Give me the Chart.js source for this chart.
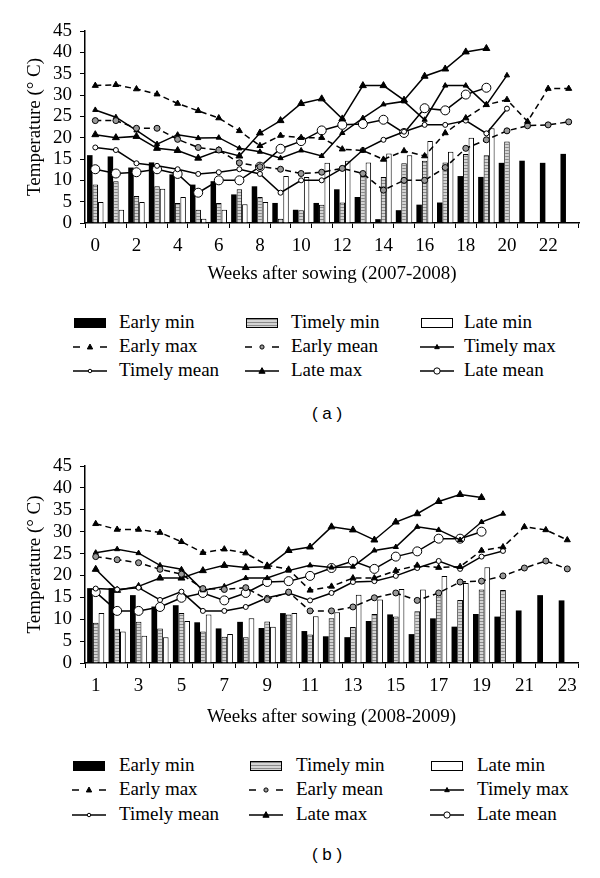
<!DOCTYPE html>
<html>
<head>
<meta charset="utf-8">
<script src="https://cdn.jsdelivr.net/npm/chart.js@4.4.0/dist/chart.umd.min.js"></script>
<style>
  body { margin: 0; background: #fff; }
  #page { position: relative; width: 600px; height: 878px; overflow: hidden; font-family: "Liberation Serif", "Times New Roman", serif; color: #000; }
  .chartBox { position: absolute; left: 0; width: 600px; }
  .lg { position: absolute; font-size: 19px; line-height: 22px; white-space: nowrap; }
  .sym { position: absolute; }
  .tag { position: absolute; width: 100px; margin-left: -50px; text-align: center; font-family: "Liberation Sans", Arial, sans-serif; font-size: 17px; line-height: 22px; }
</style>
</head>
<body>
<div id="page">
  <div class="chartBox" style="top:0;height:290px"><canvas id="chartA"></canvas></div>
  <div id="legendA"></div>
  <div class="tag" style="left:327px;top:403px">( a )</div>
  <div class="chartBox" style="top:435px;height:300px"><canvas id="chartB"></canvas></div>
  <div id="legendB"></div>
  <div class="tag" style="left:327px;top:844px">( b )</div>
</div>
<script>
// weeks after sowing
const weeksA = ['0','1','2','3','4','5','6','7','8','9','10','11','12','13','14','15','16','17','18','19','20','21','22','23'];
const weeksB = ['1','2','3','4','5','6','7','8','9','10','11','12','13','14','15','16','17','18','19','20','21','22','23'];
const yTicks = [0, 5, 10, 15, 20, 25, 30, 35, 40, 45];

// (a) 2007-2008
const earlyMinA   = [15.9, 15.6, 13.0, 14.2, 11.4, 9.0, 9.8, 6.7, 8.6, 4.7, 3.1, 4.7, 7.9, 6.1, 0.9, 3.0, 4.3, 4.8, 11.0, 10.8, 14.1, 14.6, 14.1, 16.2];
const timelyMinA  = [9.0, 9.8, 6.3, 8.6, 4.7, 3.1, 4.7, 7.9, 6.1, 1.0, 3.0, 4.3, 4.8, 11.0, 10.8, 14.0, 14.6, 14.2, 16.2, 15.9, 19.1, null, null, null];
const lateMinA    = [4.9, 3.1, 4.9, 8.0, 6.1, 1.0, 3.1, 4.4, 4.9, 11.0, 10.8, 14.1, 14.6, 14.2, 16.3, 15.9, 19.2, 16.7, 20.0, 22.2, null, null, null, null];
const earlyMaxA   = [32.2, 32.4, 31.4, 30.2, 28.0, 26.3, 24.6, 21.6, 18.1, 20.5, 20.0, 20.0, 17.3, 17.0, 14.9, 16.9, 15.7, 21.1, 24.6, 27.7, 28.9, 23.8, 31.5, 31.5];
const earlyMeanA  = [24.0, 24.0, 22.2, 22.2, 19.6, 17.7, 17.1, 14.1, 13.2, 12.6, 11.6, 11.9, 12.8, 11.6, 7.7, 10.0, 10.0, 13.0, 17.5, 19.5, 21.6, 22.8, 23.0, 23.7];
const timelyMaxA  = [26.5, 24.8, 21.7, 18.5, 20.7, 19.9, 20.0, 17.5, 16.7, 15.2, 17.0, 15.7, 21.1, 24.6, 27.8, 28.5, 24.2, 32.2, 32.2, 27.7, 34.6, null, null, null];
const timelyMeanA = [17.7, 17.1, 14.0, 13.4, 12.6, 11.5, 11.9, 12.6, 11.5, 7.1, 10.0, 10.0, 12.8, 17.1, 19.5, 21.4, 23.0, 23.0, 24.0, 21.0, 26.8, null, null, null];
const lateMaxA    = [20.7, 20.0, 20.3, 17.5, 17.0, 15.2, 17.0, 15.7, 21.1, 24.0, 28.0, 29.1, 24.4, 32.2, 32.2, 28.8, 34.4, 36.1, 40.1, 40.9, null, null, null, null];
const lateMeanA   = [12.6, 11.6, 11.9, 12.6, 11.5, 7.1, 10.0, 10.0, 13.2, 17.4, 19.2, 21.7, 23.0, 23.2, 24.2, 21.1, 26.9, 26.4, 30.1, 31.7, null, null, null, null];

// (b) 2008-2009
const earlyMinB   = [17.1, 17.1, 15.5, 12.9, 13.2, 9.3, 7.9, 9.4, 8.0, 11.4, 7.3, 6.1, 5.9, 9.6, 11.1, 6.6, 10.2, 8.3, 11.2, 10.6, 12.0, 15.5, 14.3];
const timelyMinB  = [9.2, 7.8, 9.4, 7.9, 11.4, 7.2, 6.0, 5.9, 9.5, 11.1, 6.5, 10.2, 8.2, 11.2, 10.6, 11.8, 15.5, 14.4, 16.8, 16.7, null, null, null];
const lateMinB    = [11.4, 7.2, 6.2, 5.9, 9.6, 11.1, 6.6, 10.2, 8.3, 11.4, 10.7, 11.6, 15.6, 14.5, 16.9, 16.8, 19.9, 18.3, 21.9, null, null, null, null];
const earlyMaxB   = [31.8, 30.5, 30.5, 29.8, 27.7, 25.2, 26.0, 25.1, 22.3, 21.4, 16.6, 17.5, 19.4, 19.4, 21.1, 22.3, 21.8, 22.0, 25.7, 26.5, 31.1, 30.4, 28.1];
const earlyMeanB  = [24.3, 23.6, 22.9, 21.4, 20.3, 17.0, 16.8, 17.2, 14.5, 16.2, 11.9, 11.9, 12.8, 14.9, 16.0, 14.3, 16.0, 18.5, 18.7, 19.9, 21.7, 23.3, 21.5];
const timelyMaxB  = [25.2, 26.0, 25.1, 22.3, 21.4, 16.6, 17.5, 19.4, 19.4, 21.1, 22.3, 21.8, 22.0, 25.7, 26.5, 31.1, 30.4, 28.1, 32.2, 34.1, null, null, null];
const timelyMeanB = [17.0, 16.8, 17.2, 14.4, 16.3, 11.9, 11.9, 12.8, 14.9, 16.0, 14.3, 16.0, 18.5, 18.7, 19.9, 21.7, 23.3, 21.5, 24.3, 25.6, null, null, null];
const lateMaxB    = [21.4, 16.6, 17.5, 19.4, 19.4, 21.1, 22.3, 21.8, 22.0, 25.7, 26.5, 31.1, 30.4, 28.1, 32.2, 34.1, 36.9, 38.5, 37.8, null, null, null, null];
const lateMeanB   = [16.2, 11.9, 11.9, 12.8, 14.9, 16.0, 14.3, 16.0, 18.5, 18.7, 19.9, 21.7, 23.3, 21.5, 24.3, 25.5, 28.4, 28.4, 30.0, null, null, null, null];

Chart.defaults.font.family = '"Liberation Serif", "Times New Roman", serif';
Chart.defaults.font.size = 19;
Chart.defaults.color = '#000';

function stripes() {
  const c = document.createElement('canvas');
  c.width = 4; c.height = 3;
  const g = c.getContext('2d');
  g.fillStyle = '#d4d4d4'; g.fillRect(0, 0, 4, 3);
  g.fillStyle = '#8a8a8a'; g.fillRect(0, 0, 4, 1);
  return g.createPattern(c, 'repeat');
}
const grayFill = stripes();

function barSet(label, data, fill, bw) {
  return { type: 'bar', label: label, data: data, backgroundColor: fill, borderColor: '#000', borderWidth: bw,
           barPercentage: 1, categoryPercentage: 0.8, order: 1 };
}
function lineSet(label, data, dashed, shape, r, fill) {
  return { type: 'line', label: label, data: data, borderColor: '#000', borderWidth: 1.5,
           borderDash: dashed ? [6, 4] : [], pointStyle: shape, pointRadius: r,
           pointBackgroundColor: fill, pointBorderColor: '#000', pointBorderWidth: 1,
           fill: false, tension: 0, spanGaps: false, order: 0 };
}

function makeSets(s) {
  return [
    barSet('Early min', s[0], '#000', 0),
    barSet('Timely min', s[1], grayFill, 1),
    barSet('Late min', s[2], '#fff', 1),
    lineSet('Early max', s[3], true, 'triangle', 3.5, '#000'),
    lineSet('Early mean', s[4], true, 'circle', 3, '#999'),
    lineSet('Timely max', s[5], false, 'triangle', 3, '#000'),
    lineSet('Timely mean', s[6], false, 'circle', 2.5, '#fff'),
    lineSet('Late max', s[7], false, 'triangle', 4, '#000'),
    lineSet('Late mean', s[8], false, 'circle', 4.5, '#fff')
  ];
}

function makeChart(id, labels, sets, xTitle, box) {
  return new Chart(document.getElementById(id), {
    type: 'bar',
    data: { labels: labels, datasets: sets },
    options: {
      responsive: true, maintainAspectRatio: false, animation: false,
      layout: { padding: { top: box.top, right: box.right, left: 0, bottom: 0 } },
      plugins: { legend: { display: false }, tooltip: { enabled: false } },
      scales: {
        x: {
          offset: true,
          grid: { display: true, offset: true, drawOnChartArea: false, drawTicks: true, tickLength: 5, color: '#000', lineWidth: 1 },
          border: { display: true, color: '#000', width: 1.5 },
          ticks: { autoSkip: false, maxRotation: 0, padding: 7,
                   callback: function (v, i) { return i % 2 === 0 ? this.getLabelForValue(v) : ''; } },
          title: { display: true, text: xTitle, font: { size: 19 }, padding: { top: 0, bottom: box.titlePad } },
          afterFit: function (s) { s.height = box.xHeight; }
        },
        y: {
          min: yTicks[0], max: yTicks[yTicks.length - 1],
          afterBuildTicks: function (s) { s.ticks = yTicks.map(v => ({ value: v })); },
          grid: { display: true, drawOnChartArea: false, drawTicks: true, tickLength: 5, color: '#000' },
          border: { display: true, color: '#000', width: 1.5 },
          ticks: { padding: 8, autoSkip: false, font: { size: 19, lineHeight: 1 } },
          title: { display: true, text: 'Temperature (° C)', font: { size: 19 }, padding: { top: 24, bottom: 0 } },
          afterFit: function (s) { s.width = 85; }
        }
      }
    }
  });
}

function drawSymbol(cv, ds) {
  const g = cv.getContext('2d');
  const w = cv.width, my = cv.height / 2;
  if (ds.type === 'bar') {
    g.fillStyle = ds.backgroundColor;
    g.fillRect(1, my - 5, w - 2, 10);
    if (ds.borderWidth) { g.strokeStyle = '#000'; g.lineWidth = 1; g.strokeRect(1.5, my - 4.5, w - 3, 9); }
    return;
  }
  g.strokeStyle = '#000'; g.lineWidth = 1.5;
  g.beginPath();
  if (ds.borderDash.length) {
    g.moveTo(0, my); g.lineTo(7, my); g.moveTo(w - 7, my); g.lineTo(w, my);
  } else {
    g.moveTo(0, my); g.lineTo(w, my);
  }
  g.stroke();
  const r = ds.pointRadius * 0.7, cx = w / 2;
  g.fillStyle = ds.pointBackgroundColor; g.lineWidth = 1;
  g.beginPath();
  if (ds.pointStyle === 'triangle') {
    g.moveTo(cx, my - r * 1.2); g.lineTo(cx + r * 1.1, my + r * 0.8); g.lineTo(cx - r * 1.1, my + r * 0.8); g.closePath();
  } else {
    g.arc(cx, my, r, 0, Math.PI * 2);
  }
  g.fill(); g.stroke();
}

function makeLegend(id, sets, rows, symX, textX) {
  const host = document.getElementById(id);
  sets.forEach(function (ds, i) {
    const row = Math.floor(i / 3), col = i % 3;
    const cv = document.createElement('canvas');
    cv.width = 34; cv.height = 14; cv.className = 'sym';
    cv.style.left = symX[col] + 'px'; cv.style.top = (rows[row] - 7) + 'px';
    host.appendChild(cv);
    drawSymbol(cv, ds);
    const t = document.createElement('div');
    t.className = 'lg'; t.textContent = ds.label;
    t.style.left = textX[col] + 'px'; t.style.top = (rows[row] - 12) + 'px';
    host.appendChild(t);
  });
}

const setsA = makeSets([earlyMinA, timelyMinA, lateMinA, earlyMaxA, earlyMeanA, timelyMaxA, timelyMeanA, lateMaxA, lateMeanA]);
const setsB = makeSets([earlyMinB, timelyMinB, lateMinB, earlyMaxB, earlyMeanB, timelyMaxB, timelyMeanB, lateMaxB, lateMeanB]);

makeChart('chartA', weeksA, setsA, 'Weeks after sowing (2007-2008)', { top: 31, right: 21, xHeight: 67, titlePad: 5 });
makeChart('chartB', weeksB, setsB, 'Weeks after sowing (2008-2009)', { top: 31, right: 22, xHeight: 72, titlePad: 7 });

makeLegend('legendA', setsA, [323, 347, 371], [73, 245, 420], [119, 291, 464]);
makeLegend('legendB', setsB, [766, 790, 815], [72, 249, 430], [119, 296, 477]);
</script>
</body>
</html>
